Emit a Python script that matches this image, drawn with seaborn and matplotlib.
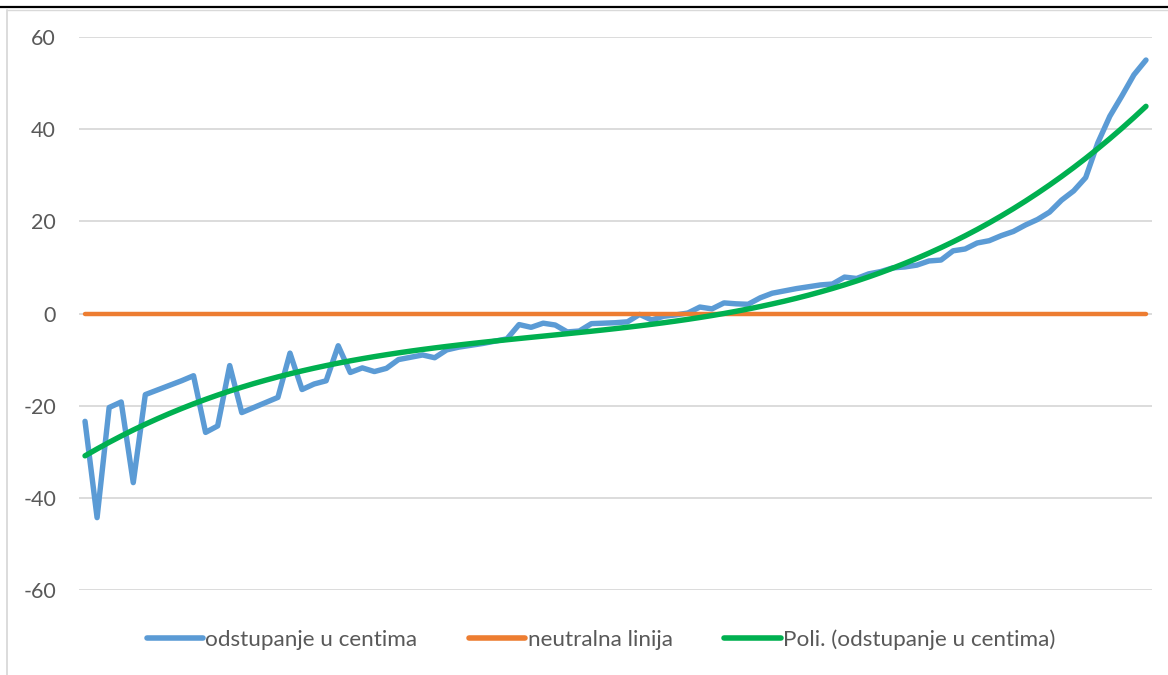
import numpy as np
import pandas as pd
import seaborn as sns
import matplotlib.pyplot as plt
from matplotlib.lines import Line2D

odstupanje = [
    -23.4, -44.3, -20.4, -19.2, -36.7, -17.6, -16.6, -15.6, -14.6, -13.5,
    -25.8, -24.4, -11.3, -21.5, -20.4, -19.3, -18.2, -8.6, -16.5, -15.3,
    -14.6, -7.0, -12.8, -11.8, -12.6, -11.9, -10.0, -9.5, -9.0, -9.6,
    -7.9, -7.3, -6.9, -6.5, -6.0, -5.5, -2.4, -3.0, -2.1, -2.5,
    -4.0, -3.8, -2.2, -2.1, -2.0, -1.8, -0.2, -1.4, -0.6, -0.3,
    0.1, 1.4, 1.0, 2.3, 2.1, 2.0, 3.4, 4.4, 4.9, 5.4,
    5.8, 6.2, 6.4, 7.9, 7.6, 8.6, 9.1, 9.9, 10.1, 10.5,
    11.4, 11.6, 13.6, 14.0, 15.3, 15.8, 16.9, 17.8, 19.2, 20.4,
    22.0, 24.6, 26.6, 29.5, 37.0, 42.8, 47.2, 51.8, 55.0,
]
neutralna = [0.0] * len(odstupanje)
y_ticks = [-60, -40, -20, 0, 20, 40, 60]
labels = ["odstupanje u centima", "neutralna linija", "Poli. (odstupanje u centima)"]
colors = ["#5B9BD5", "#ED7D31", "#00B050"]

x = np.arange(len(odstupanje))
# polynomial trendline, like Excel's "Poli." trendline
coef = np.polyfit(x + 1, odstupanje, 3)
trend = np.polyval(coef, x + 1)

df = pd.DataFrame({"x": x, "odst": odstupanje, "neutral": neutralna, "trend": trend})

sns.set_style("white")
plt.rcParams["font.family"] = ["Lato", "DejaVu Sans"]
plt.rcParams["axes.unicode_minus"] = False

fig = plt.figure(figsize=(11.68, 6.75), dpi=100)
ax = fig.add_axes([79 / 1168, 1 - 590 / 675, (1152 - 79) / 1168, (590 - 37) / 675])

for yv in y_ticks:
    ax.axhline(yv, color="#D9D9D9", lw=1.3, zorder=0)

sns.lineplot(data=df, x="x", y="odst", ax=ax, color=colors[0], lw=3.9,
             solid_capstyle="round", solid_joinstyle="round", zorder=2)
sns.lineplot(data=df, x="x", y="neutral", ax=ax, color=colors[1], lw=3.2,
             solid_capstyle="round", zorder=3)
sns.lineplot(data=df, x="x", y="trend", ax=ax, color=colors[2], lw=3.9,
             solid_capstyle="round", zorder=4)

ax.set_xlim(-0.5, len(odstupanje) - 0.5)
ax.set_ylim(-60, 60)
ax.set_yticks(y_ticks)
ax.set_xticks([])
ax.set_xlabel("")
ax.set_ylabel("")
ax.tick_params(axis="y", length=0, pad=16.5, labelsize=15.5, labelcolor="#595959")
for s in ax.spines.values():
    s.set_visible(False)

handles = [Line2D([], [], color=c, lw=4, solid_capstyle="round") for c in colors]
fig.legend(handles, labels, loc="center", bbox_to_anchor=(0.5146, 1 - 640 / 675),
           ncol=3, frameon=False, fontsize=16.2, labelcolor="#595959",
           handlelength=2.5, handletextpad=0.1, columnspacing=2.3)

# chart border
fig.add_artist(Line2D([0, 1], [1 - 7 / 675, 1 - 7 / 675], color="black", lw=1.6))
fig.add_artist(Line2D([7 / 1168, 1], [1 - 9.5 / 675, 1 - 9.5 / 675], color="#D9D9D9", lw=1))
fig.add_artist(Line2D([7 / 1168, 7 / 1168], [0, 1 - 9.5 / 675], color="#D9D9D9", lw=1.3))

fig.savefig("out.png", dpi=100)
